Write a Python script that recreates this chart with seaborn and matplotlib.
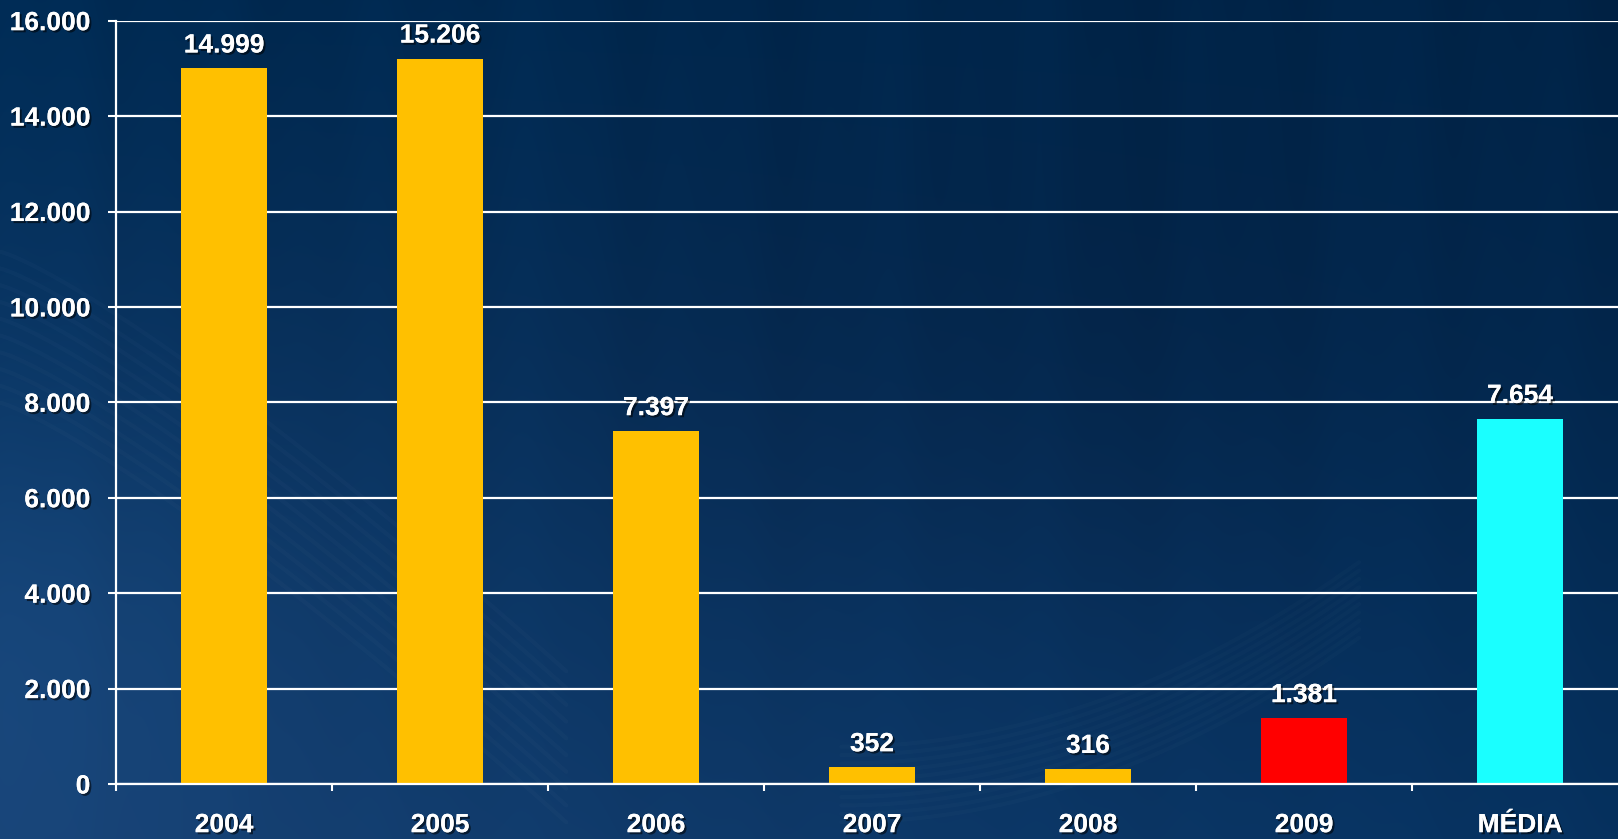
import numpy as np
import pandas as pd
import matplotlib
matplotlib.use("Agg")
import matplotlib.pyplot as plt
import matplotlib.patheffects as pe
from matplotlib.ticker import FuncFormatter, FixedLocator
import seaborn as sns

# Annual totals and their average
categories = ["2004", "2005", "2006", "2007", "2008", "2009", "MÉDIA"]
values = [14999, 15206, 7397, 352, 316, 1381, 7654]
bar_colors = ["#FFC000", "#FFC000", "#FFC000", "#FFC000", "#FFC000", "#FF0000", "#1AFFFF"]
y_ticks = [0, 2000, 4000, 6000, 8000, 10000, 12000, 14000, 16000]

sns.set_theme(style="white")
plt.rcParams["font.family"] = ["Liberation Sans", "DejaVu Sans"]
plt.rcParams["font.weight"] = "bold"

W, H = 1618, 839
fig = plt.figure(figsize=(W / 100, H / 100), dpi=100)

# ---- dark blue slide background -------------------------------------------
bg_ax = fig.add_axes([0, 0, 1, 1], zorder=-10)
yy, xx = np.mgrid[0:H, 0:W]
u = xx / W
v = yy / H
top = np.array([0, 43, 84]) * (1 - u[..., None]) + np.array([0, 36, 72]) * u[..., None]
bot = np.array([22, 64, 114]) * (1 - u[..., None]) + np.array([6, 50, 96]) * u[..., None]
img = top * (1 - v[..., None]) + bot * v[..., None]
# slightly darker band across the middle right
dark = np.exp(-(((u - 0.65) / 0.35) ** 2 + ((v - 0.4) / 0.35) ** 2))
img -= dark[..., None] * np.array([0, 6, 10])
# faint glow in the lower left
glow = np.exp(-(((u - 0.0) / 0.2) ** 2 + ((v - 0.75) / 0.3) ** 2))
img += glow[..., None] * np.array([6, 10, 14])
# faint vertical streaks
streak = (np.sin(u * 61.0) * 0.5 + np.sin(u * 137.0 + 1.3) * 0.3 + np.sin(u * 23.0 + 0.7) * 0.4)
img += streak[..., None] * np.array([0, 2.0, 3.5]) * (1 - v[..., None] * 0.6)
img = np.clip(img, 0, 255) / 255.0
bg_ax.imshow(img, aspect="auto", extent=[0, 1, 0, 1], origin="upper")
# soft light sweeps in the lower corners
t = np.linspace(0, 1, 200)
for k in range(10):
    off = k * 0.02
    bg_ax.plot(t * 0.35, 0.70 - off - 0.5 * t ** 1.2, color="white",
               alpha=0.018, lw=3)
    bg_ax.plot(0.52 + t * 0.32, 0.02 + off * 0.5 + 0.22 * t ** 2, color="white",
               alpha=0.015, lw=3)
bg_ax.set_xlim(0, 1)
bg_ax.set_ylim(0, 1)
bg_ax.axis("off")

# ---- bar chart --------------------------------------------------------------
ax = fig.add_axes([116 / W, 55 / H, 1512 / W, 763.3 / H])
ax.patch.set_alpha(0)

df = pd.DataFrame({"categoria": categories, "valor": values})
sns.barplot(data=df, x="categoria", y="valor", hue="categoria",
            palette=dict(zip(categories, bar_colors)), width=0.4,
            saturation=1, legend=False, ax=ax, zorder=3,
            edgecolor="none", linewidth=0)

ax.set_ylim(0, 16000)
ax.set_xlim(-0.5, len(categories) - 0.5)
ax.set_xlabel("")
ax.set_ylabel("")

shadow = [pe.withSimplePatchShadow(offset=(1.5, -1.5), shadow_rgbFace="black", alpha=0.55),
          pe.Normal()]

ax.yaxis.set_major_locator(FixedLocator(y_ticks))
ax.yaxis.set_major_formatter(FuncFormatter(lambda val, _: f"{int(val):,}".replace(",", ".")))
ax.grid(axis="y", color="white", lw=1.6, zorder=1)
ax.set_axisbelow(True)

ax.xaxis.set_minor_locator(FixedLocator(np.arange(-0.5, len(categories), 1.0)))
ax.tick_params(axis="x", which="major", length=0, pad=21, labelsize=19,
               labelcolor="white")
ax.tick_params(axis="x", which="minor", length=5, width=1.5, color="white",
               direction="out", bottom=True)
ax.tick_params(axis="y", length=5.5, width=1.5, color="white", direction="out",
               left=True, pad=13, labelsize=19, labelcolor="white")

for lbl in ax.get_xticklabels() + ax.get_yticklabels():
    lbl.set_fontweight("bold")
    lbl.set_path_effects(shadow)

for side in ["top", "right"]:
    ax.spines[side].set_visible(False)
for side in ["left", "bottom"]:
    ax.spines[side].set_color("white")
    ax.spines[side].set_linewidth(1.6)
    ax.spines[side].set_zorder(4)

# value labels above bars
for bar, val in zip(ax.patches, values):
    x = bar.get_x() + bar.get_width() / 2
    ax.annotate(f"{val:,}".replace(",", "."), (x, bar.get_height()),
                xytext=(0, 11.5), textcoords="offset points",
                ha="center", va="baseline", fontsize=19, fontweight="bold",
                color="white", path_effects=shadow, zorder=5)

fig.savefig("out.png", dpi=100)
